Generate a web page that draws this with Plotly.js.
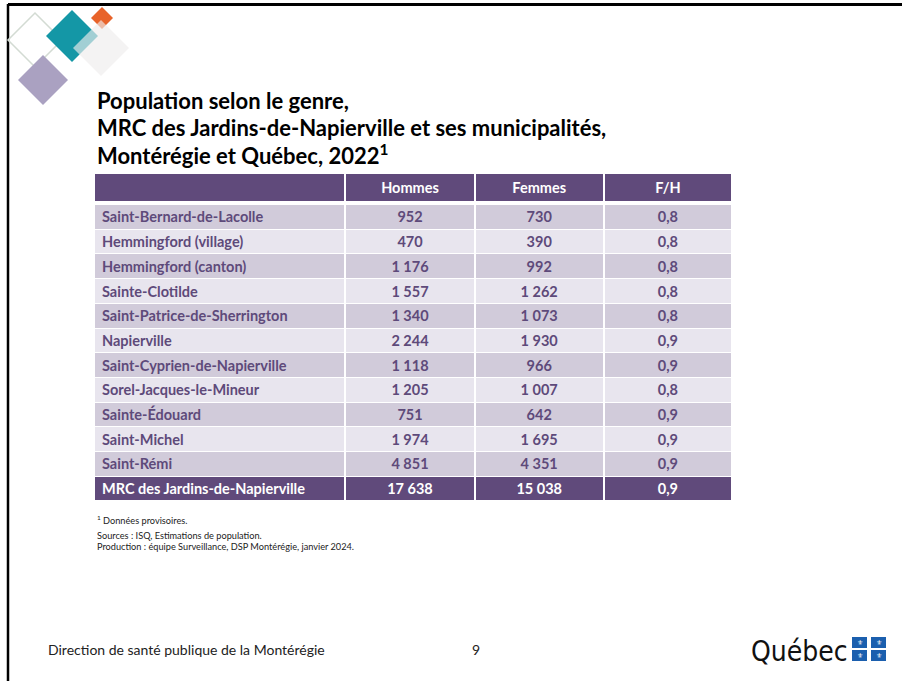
<!DOCTYPE html>
<html>
<head>
<meta charset="utf-8">
<script src="https://cdn.plot.ly/plotly-3.0.1.min.js"></script>
<style>html,body{margin:0;padding:0;background:#fff;}#chart{width:902px;height:681px;}</style>
</head>
<body>
<div id="chart"></div>
<script>
// ---- Data ----
const columns = ["", "Hommes", "Femmes", "F/H"];
const municipalites = ["Saint-Bernard-de-Lacolle","Hemmingford (village)","Hemmingford (canton)","Sainte-Clotilde","Saint-Patrice-de-Sherrington","Napierville","Saint-Cyprien-de-Napierville","Sorel-Jacques-le-Mineur","Sainte-Édouard","Saint-Michel","Saint-Rémi","MRC des Jardins-de-Napierville"];
const hommes = [952,470,1176,1557,1340,2244,1118,1205,751,1974,4851,17638];
const femmes = [730,390,992,1262,1073,1930,966,1007,642,1695,4351,15038];
const ratioFH = [0.8,0.8,0.8,0.8,0.8,0.9,0.9,0.8,0.9,0.9,0.9,0.9];

const titleLines = ["Population selon le genre,","MRC des Jardins-de-Napierville et ses municipalités,","Montérégie et Québec, 2022<sup>1</sup>"];
const notes = ["<sup>1</sup> Données provisoires.","Sources : ISQ, Estimations de population.","Production : équipe Surveillance, DSP Montérégie, janvier 2024."];
const footerLeft = "Direction de santé publique de la Montérégie";
const pageNum = "9";

// ---- Layout helpers (geometry, not data) ----
const W = 902, H = 681;
const px = x => x / W;
const py = y => 1 - y / H;
function fmtInt(n){ return String(n).replace(/\B(?=(\d{3})+(?!\d))/g, " "); }
function fmtDec(v){ return v.toFixed(1).replace(".", ","); }

const colW = [251, 129, 129, 128];
const colEdges = [0]; colW.forEach(w => colEdges.push(colEdges[colEdges.length - 1] + w));
const headerH = 28, gapH = 3, rowH = 24.7;
const nRows = municipalites.length;
const rowEdges = [0, headerH, headerH + gapH];
for (let i = 1; i <= nRows; i++) rowEdges.push(headerH + gapH + i * rowH);
const totalH = rowEdges[rowEdges.length - 1];

const purple = "#604a7b";
const band1 = "#d1cbda", band2 = "#e8e5ee";
const textPurple = "#5e4a7a";
const fontFam = "Lato, 'Open Sans', sans-serif";

// fill level per row: 0 = purple, 1 = band1, 2 = band2, null = gap
const zRows = [[0,0,0,0], [null,null,null,null]];
for (let i = 0; i < nRows; i++) {
  const v = i === nRows - 1 ? 0 : (i % 2 === 0 ? 1 : 2);
  zRows.push([v, v, v, v]);
}

const heat = {
  type: "heatmap",
  x: colEdges, y: rowEdges, z: zRows,
  zmin: 0, zmax: 2,
  colorscale: [[0, purple], [0.5, band1], [1, band2]],
  showscale: false, xgap: 2, ygap: 1,
  hoverinfo: "skip"
};

const textShift = 1.5;
const rowCenters = municipalites.map((_, i) => headerH + gapH + (i + 0.5) * rowH + textShift);
const rowColors = municipalites.map((_, i) => i === nRows - 1 ? "#ffffff" : textPurple);
const colCenter = c => (colEdges[c] + colEdges[c + 1]) / 2;

function textTrace(xs, ys, texts, colors, pos){
  return { type: "scatter", mode: "text", x: xs, y: ys, text: texts, textposition: pos,
    textfont: { family: fontFam, size: 14.5, color: colors, weight: "bold" },
    hoverinfo: "skip", cliponaxis: false, showlegend: false };
}
const cellValues = [municipalites, hommes.map(fmtInt), femmes.map(fmtInt), ratioFH.map(fmtDec)];
const traces = [heat];
// header texts
const hy = headerH / 2 + textShift;
traces.push(textTrace([1, 2, 3].map(colCenter), [hy, hy, hy], columns.slice(1), "#ffffff", "middle center"));
// body columns
traces.push(textTrace(municipalites.map(() => colEdges[0] + 8), rowCenters, cellValues[0], rowColors, "middle right"));
for (let c = 1; c < 4; c++) {
  traces.push(textTrace(municipalites.map(() => colCenter(c)), rowCenters, cellValues[c], rowColors, "middle center"));
}

// decorative diamonds (slide template)
function diamond(cx, cy, r){
  return `M ${px(cx)} ${py(cy - r)} L ${px(cx + r)} ${py(cy)} L ${px(cx)} ${py(cy + r)} L ${px(cx - r)} ${py(cy)} Z`;
}
const P = { xref: "paper", yref: "paper" };
const shapes = [
  Object.assign({ type: "line", x0: px(8), x1: 1, y0: py(4.5), y1: py(4.5), line: { color: "#000", width: 3 } }, P),
  Object.assign({ type: "line", x0: px(8), x1: px(8), y0: py(4), y1: 0, line: { color: "#000", width: 2.5 } }, P),
  Object.assign({ type: "path", path: diamond(35, 40, 27), fillcolor: "rgba(0,0,0,0)", line: { color: "#d3dbd3", width: 1.5 } }, P),
  Object.assign({ type: "path", path: diamond(72, 36, 26), fillcolor: "#1497a6", line: { width: 0 } }, P),
  Object.assign({ type: "path", path: diamond(102, 18, 11), fillcolor: "#e8632a", line: { width: 0 } }, P),
  Object.assign({ type: "path", path: diamond(101, 48, 28), fillcolor: "rgba(238,236,236,0.65)", line: { width: 0 } }, P),
  Object.assign({ type: "path", path: diamond(43, 80, 25), fillcolor: "#aaa1c1", line: { width: 0 } }, P),
  Object.assign({ type: "rect", x0: px(852), x1: px(867), y0: py(637), y1: py(648), fillcolor: "#1b5fae", line: { width: 0 } }, P),
  Object.assign({ type: "rect", x0: px(871), x1: px(886), y0: py(637), y1: py(648), fillcolor: "#1b5fae", line: { width: 0 } }, P),
  Object.assign({ type: "rect", x0: px(852), x1: px(867), y0: py(650), y1: py(661), fillcolor: "#1b5fae", line: { width: 0 } }, P),
  Object.assign({ type: "rect", x0: px(871), x1: px(886), y0: py(650), y1: py(661), fillcolor: "#1b5fae", line: { width: 0 } }, P)
];

const annotations = [];
[100, 127, 154].forEach((y, i) => annotations.push(Object.assign({
  x: px(95), y: py(y), xanchor: "left", yanchor: "middle",
  text: "<b>" + titleLines[i] + "</b>", showarrow: false,
  font: { family: fontFam, size: 22, color: "#000" } }, P)));
[520, 535, 546].forEach((y, i) => annotations.push(Object.assign({
  x: px(95), y: py(y), xanchor: "left", yanchor: "middle",
  text: notes[i], showarrow: false, font: { family: fontFam, size: 9.2, color: "#222" } }, P)));
annotations.push(Object.assign({ x: px(46), y: py(649), xanchor: "left", yanchor: "middle",
  text: footerLeft, showarrow: false, font: { family: fontFam, size: 14, color: "#222" } }, P));
annotations.push(Object.assign({ x: px(476), y: py(649), xanchor: "center", yanchor: "middle",
  text: pageNum, showarrow: false, font: { family: fontFam, size: 14, color: "#222" } }, P));
annotations.push(Object.assign({ x: px(850), y: py(651), xanchor: "right", yanchor: "middle",
  text: "Québec", showarrow: false, font: { family: "'DejaVu Sans Condensed', 'Liberation Sans Narrow', sans-serif", size: 28, color: "#111" } }, P));
[[859.5, 642.5], [878.5, 642.5], [859.5, 655.5], [878.5, 655.5]].forEach(([x, y]) => annotations.push(Object.assign({
  x: px(x), y: py(y), xanchor: "center", yanchor: "middle",
  text: "⚜", showarrow: false, font: { family: "DejaVu Sans, sans-serif", size: 7, color: "#ffffff" } }, P)));

const layout = {
  width: W, height: H,
  margin: { l: 0, r: 0, t: 0, b: 0 },
  paper_bgcolor: "#ffffff",
  plot_bgcolor: "rgba(0,0,0,0)",
  showlegend: false,
  xaxis: { domain: [px(94), px(732)], range: [0, colEdges[colEdges.length - 1]], visible: false, fixedrange: true },
  yaxis: { domain: [py(174 + totalH), py(174)], range: [totalH, 0], visible: false, fixedrange: true },
  shapes: shapes,
  annotations: annotations
};

Plotly.newPlot("chart", traces, layout, { displayModeBar: false, staticPlot: true });
</script>
</body>
</html>
